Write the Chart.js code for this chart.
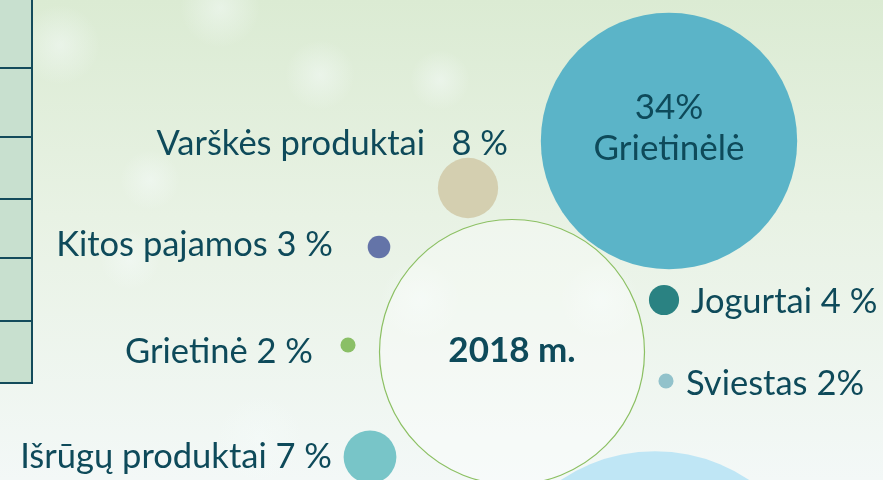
<!DOCTYPE html>
<html>
<head>
<meta charset="utf-8">
<script src="https://cdn.jsdelivr.net/npm/chart.js@4/dist/chart.umd.min.js"></script>
<style>
html,body{margin:0;padding:0;background:#eef5ec;}
#wrap{width:883px;height:480px;position:relative;}
</style>
</head>
<body>
<div id="wrap"><canvas id="c" width="883" height="480"></canvas></div>
<script>
// ---- data ----
const categories = ['Grietinėlė', 'Varškės produktai', 'Išrūgų produktai', 'Jogurtai', 'Kitos pajamos', 'Grietinė', 'Sviestas'];
const shares = [34, 8, 7, 4, 3, 2, 2];
const posX = [669, 468, 370, 664, 379, 348, 666];
const posY = [141, 188, 457, 300, 247, 345, 381];
const colors = ['#5bb4c8', '#d4cfb0', '#78c5c8', '#2a8282', '#6474a8', '#8abf66', '#92c2cb'];
const yearLabel = '2018 m.';
const hubPos = [512, 352];
const extraShare = [45];          // partly visible bubble at the bottom
const extraPos = [655, 621];

const K = 3.77; // px radius per percent

const textColor = '#0e4a5a';
const FONT = "'Lato', 'Open Sans', sans-serif";

// label layout: [align, dx, dy] relative to bubble centre, text template
const labelLayout = [
  null,
  ['right', 40, -33, (n, v) => n + '   ' + v + ' %'],
  ['right', -38, 11, (n, v) => n + ' ' + v + ' %'],
  ['left', 27, 13, (n, v) => n + ' ' + v + ' %'],
  ['right', -46, 9, (n, v) => n + ' ' + v + ' %'],
  ['right', -35, 18, (n, v) => n + ' ' + v + ' %'],
  ['left', 20, 14, (n, v) => n + ' ' + v + '%']
];

function drawText(ctx, txt, x, y, align) {
  ctx.textAlign = align;
  ctx.fillText(txt, x, y);
}

const bgPlugin = {
  id: 'bg',
  beforeDraw(chart) {
    const ctx = chart.ctx, w = chart.width, h = chart.height;
    ctx.save();
    const g = ctx.createLinearGradient(0, 0, 0, h);
    g.addColorStop(0, '#dbebd3');
    g.addColorStop(0.45, '#e8f2e4');
    g.addColorStop(1, '#f3f8f7');
    ctx.fillStyle = g;
    ctx.fillRect(0, 0, w, h);
    const spots = [[60, 45, 40], [220, 8, 40], [320, 75, 35], [440, 80, 30], [150, 180, 30], [420, 300, 40], [260, 440, 45], [130, 260, 30], [600, 300, 40]];
    spots.forEach(([x, y, r]) => {
      const rg = ctx.createRadialGradient(x, y, 0, x, y, r);
      rg.addColorStop(0, 'rgba(245,251,250,0.5)');
      rg.addColorStop(1, 'rgba(245,251,250,0)');
      ctx.fillStyle = rg;
      ctx.fillRect(x - r, y - r, 2 * r, 2 * r);
    });
    // partial table at the left edge
    const rows = [-2, 68, 137, 199, 258, 321, 383];
    ctx.fillStyle = '#c8e0cf';
    ctx.fillRect(0, 0, 32, 383);
    ctx.strokeStyle = '#134b5b';
    ctx.lineWidth = 2;
    ctx.beginPath();
    ctx.moveTo(32, 0); ctx.lineTo(32, 384);
    rows.forEach(y => { ctx.moveTo(0, y); ctx.lineTo(33, y); });
    ctx.stroke();
    ctx.restore();
  }
};

const labelPlugin = {
  id: 'labels',
  afterDatasetsDraw(chart) {
    const ctx = chart.ctx;
    const meta = chart.getDatasetMeta(0);
    ctx.save();
    ctx.fillStyle = textColor;
    ctx.textBaseline = 'alphabetic';
    meta.data.forEach((el, i) => {
      const lay = labelLayout[i];
      if (!lay) {
        ctx.font = '35px ' + FONT;
        drawText(ctx, shares[i] + '%', el.x, el.y - 22, 'center');
        drawText(ctx, categories[i], el.x, el.y + 19, 'center');
        return;
      }
      ctx.font = '34.5px ' + FONT;
      drawText(ctx, lay[3](categories[i], shares[i]), el.x + lay[1], el.y + lay[2], lay[0]);
    });
    const hub = chart.getDatasetMeta(1).data[0];
    ctx.font = 'bold 35px ' + FONT;
    drawText(ctx, yearLabel, hub.x, hub.y + 10, 'center');
    ctx.restore();
  }
};

new Chart(document.getElementById('c'), {
  type: 'bubble',
  data: {
    datasets: [
      {
        label: 'Pajamos',
        data: shares.map((v, i) => ({ x: posX[i], y: posY[i], r: v * K })),
        backgroundColor: colors,
        borderWidth: 0,
        clip: false,
        order: 0
      },
      {
        label: 'Metai',
        data: [{ x: hubPos[0], y: hubPos[1], r: 132.5 }],
        backgroundColor: 'rgba(255,255,255,0.35)',
        borderColor: '#8cc063',
        borderWidth: 1.2,
        clip: false,
        order: 1
      },
      {
        label: 'Kita',
        data: extraShare.map((v, i) => ({ x: extraPos[0], y: extraPos[1], r: v * K })),
        backgroundColor: '#bfe6f5',
        borderWidth: 0,
        clip: false,
        order: 2
      }
    ]
  },
  options: {
    responsive: false,
    animation: false,
    layout: { padding: 0, autoPadding: false },
    plugins: { legend: { display: false }, tooltip: { enabled: false } },
    elements: { point: { hoverRadius: 0 } },
    scales: {
      x: { type: 'linear', min: 0, max: 883, display: false },
      y: { type: 'linear', min: 0, max: 480, reverse: true, display: false }
    }
  },
  plugins: [bgPlugin, labelPlugin]
});
</script>
</body>
</html>
